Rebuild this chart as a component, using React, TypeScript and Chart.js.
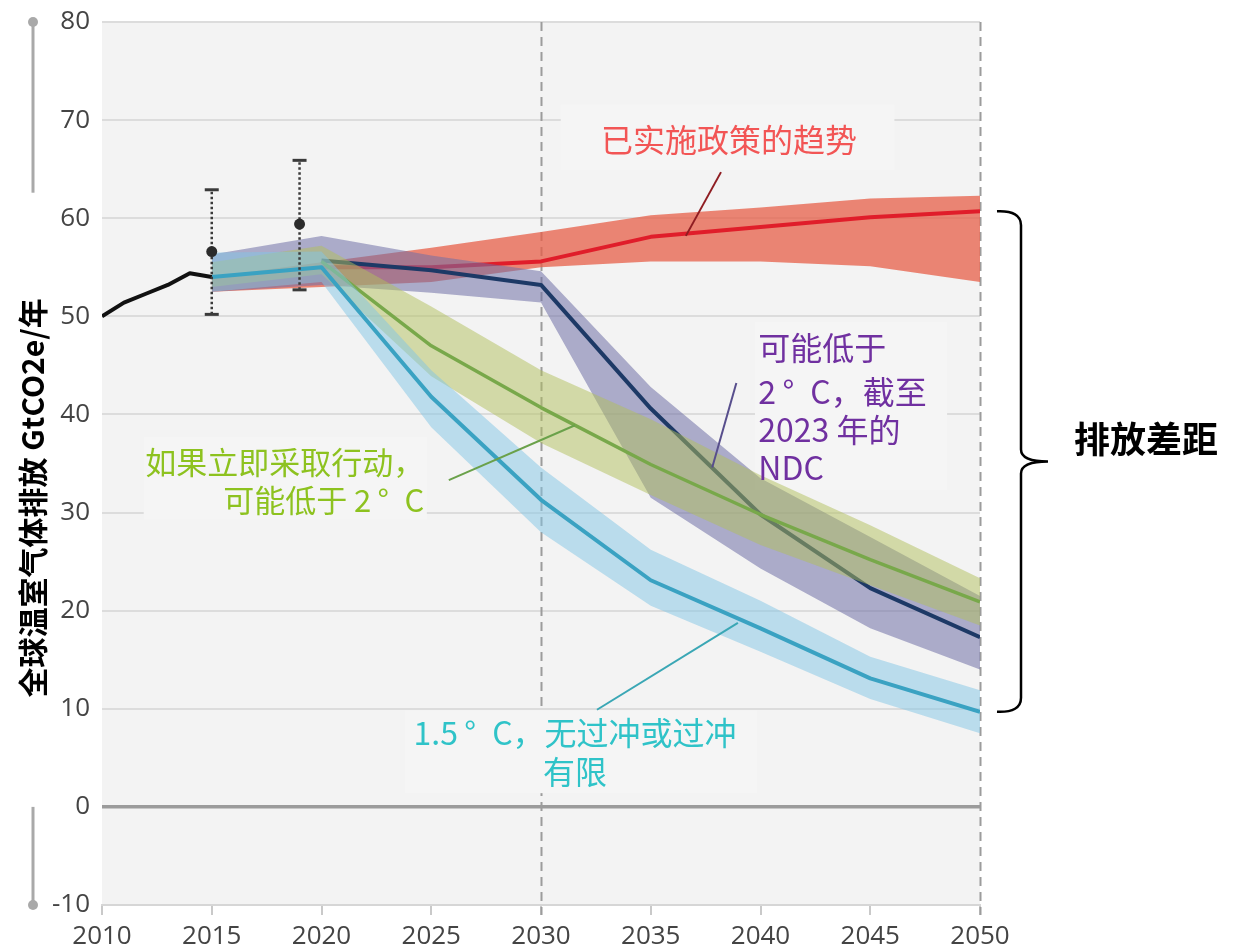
import React, { useEffect, useRef } from "react";
import { Chart, registerables } from "chart.js";

Chart.register(...registerables);

// ---------- data ----------
const years = [2015, 2020, 2025, 2030, 2035, 2040, 2045, 2050];

const histYears = [2010, 2011, 2012, 2013, 2014, 2015];
const histValues = [50.0, 51.4, 52.3, 53.2, 54.4, 54.0];

const policyHigh = [54.0, 55.5, 57.0, 58.6, 60.3, 61.1, 62.0, 62.3];
const policyLow = [52.5, 53.0, 53.5, 55.0, 55.6, 55.6, 55.1, 53.5];
const policyMid = [null, 55.0, 55.0, 55.6, 58.1, 59.1, 60.1, 60.7];

const ndcHigh = [56.3, 58.2, 56.2, 54.6, 42.8, 33.5, 27.5, 21.5];
const ndcLow = [52.5, 53.2, 52.4, 51.4, 31.5, 24.3, 18.2, 14.0];
const ndcMid = [null, 55.7, 54.7, 53.2, 40.6, 29.8, 22.3, 17.3];

const immHigh = [55.5, 57.2, 51.0, 44.5, 39.5, 33.8, 28.7, 23.3];
const immLow = [53.0, 54.3, 43.9, 37.1, 31.8, 26.7, 22.6, 18.5];
const immMid = [null, 55.6, 47.0, 40.7, 34.9, 29.8, 25.2, 20.9];

const c15High = [56.5, 56.6, 44.5, 34.6, 26.2, 21.0, 15.3, 11.9];
const c15Low = [52.5, 53.5, 38.7, 28.0, 20.5, 15.8, 11.0, 7.5];
const c15Mid = [54.0, 55.0, 41.8, 31.3, 23.1, 18.2, 13.1, 9.7];

const errYears = [2015, 2019];
const errCenter = [56.6, 59.4];
const errLow = [50.2, 52.7];
const errHigh = [62.9, 65.9];

const dashedYears = [2030, 2050];

const yAxisTitle = "全球温室气体排放 GtCO2e/年";
const gapLabel = "排放差距";

const policyText = ["已实施政策的趋势"];
const ndcText = ["可能低于", "2\u2009°\u2002C，截至", "2023 年的", "NDC"];
const immText = ["如果立即采取行动，", "可能低于 2\u2009°\u2002C"];
const c15Text = ["1.5\u2009°\u2002C，无过冲或过冲", "有限"];

// ---------- helpers ----------
type P = { x: number; y: number | null };
const pts = (xs: number[], ys: (number | null)[]): P[] =>
  xs.map((x, i) => ({ x, y: ys[i] })).filter((p) => p.y !== null);

const whiskerPts = (): P[] => {
  const out: P[] = [];
  errYears.forEach((yr, i) => {
    if (i > 0) out.push({ x: (errYears[i - 1] + yr) / 2, y: null });
    out.push({ x: yr, y: errLow[i] });
    out.push({ x: yr, y: errHigh[i] });
  });
  return out;
};

const BG = "#f3f3f3";
const BOX = "#f5f5f5";
const CJK = '"Noto Sans CJK SC", "Noto Sans", sans-serif';
const TICK_FONT = '"Open Sans", sans-serif';

// annotation layout in data units
const labelBoxes = [
  { x0: 2030.9, x1: 2046.1, y0: 71.6, y1: 64.9 },
  { x0: 2039.75, x1: 2048.5, y0: 49.4, y1: 32.3 },
  { x0: 2011.9, x1: 2024.8, y0: 37.7, y1: 29.3 },
  { x0: 2023.8, x1: 2039.85, y0: 9.8, y1: 1.4 },
];

const leaders = [
  { from: [2038.2, 64.7], to: [2036.6, 58.2], color: "#8f1d22" },
  { from: [2038.9, 43.2], to: [2037.8, 34.6], color: "#574e8c" },
  { from: [2025.8, 33.3], to: [2031.55, 38.9], color: "#6aa14a" },
  { from: [2032.55, 9.9], to: [2038.97, 18.76], color: "#3aa7b5" },
];

const textBlocks = [
  { lines: policyText, x: 2038.56, ys: [68.0], align: "center", color: "#f25555", size: 32 },
  { lines: ndcText, x: 2039.9, ys: [46.8, 42.3, 38.4, 34.6], align: "left", color: "#7030a0", size: 32 },
  { lines: immText, x: 2024.68, ys: [35.1, 31.3], align: "right", color: "#8dc21f", size: 31 },
  { lines: c15Text, x: 2031.55, ys: [7.5, 3.6], align: "center", color: "#2fc3c8", size: 32 },
];

const decorPlugin = {
  id: "decor",
  beforeDraw(chart: any) {
    const { ctx, chartArea: a } = chart;
    ctx.save();
    ctx.fillStyle = BG;
    ctx.fillRect(a.left, a.top, a.right - a.left, a.bottom - a.top);
    ctx.restore();
  },
  beforeDatasetsDraw(chart: any) {
    const { ctx, chartArea: a } = chart;
    const xs = chart.scales.x;
    const ys = chart.scales.y;
    ctx.save();
    ctx.setLineDash([9, 6]);
    ctx.strokeStyle = "#9c9c9c";
    ctx.lineWidth = 2;
    dashedYears.forEach((v) => {
      const px = Math.round(xs.getPixelForValue(v)) + 0.5;
      ctx.beginPath();
      ctx.moveTo(px, a.top);
      ctx.lineTo(px, a.bottom + 10);
      ctx.stroke();
    });
    ctx.setLineDash([]);
    ctx.fillStyle = BOX;
    labelBoxes.forEach((b) => {
      const x0 = xs.getPixelForValue(b.x0);
      const x1 = xs.getPixelForValue(b.x1);
      const y0 = ys.getPixelForValue(b.y0);
      const y1 = ys.getPixelForValue(b.y1);
      ctx.fillRect(x0, y0, x1 - x0, y1 - y0);
    });
    ctx.restore();
  },
  afterDatasetsDraw(chart: any) {
    const { ctx } = chart;
    const xs = chart.scales.x;
    const ys = chart.scales.y;
    ctx.save();
    leaders.forEach((l) => {
      ctx.strokeStyle = l.color;
      ctx.lineWidth = 2;
      ctx.beginPath();
      ctx.moveTo(xs.getPixelForValue(l.from[0]), ys.getPixelForValue(l.from[1]));
      ctx.lineTo(xs.getPixelForValue(l.to[0]), ys.getPixelForValue(l.to[1]));
      ctx.stroke();
    });
    textBlocks.forEach((t) => {
      ctx.font = `${t.size}px ${CJK}`;
      ctx.fillStyle = t.color;
      ctx.textAlign = t.align as CanvasTextAlign;
      ctx.textBaseline = "middle";
      t.lines.forEach((line, i) => {
        ctx.fillText(line, xs.getPixelForValue(t.x), ys.getPixelForValue(t.ys[i]));
      });
    });
    ctx.restore();
  },
  afterDraw(chart: any) {
    const { ctx, chartArea: a } = chart;
    const ys = chart.scales.y;
    ctx.save();
    // decorative side bars
    const bx = a.left - 69;
    ctx.strokeStyle = "#a9a9a9";
    ctx.fillStyle = "#a9a9a9";
    ctx.lineWidth = 3;
    const bars = [
      [80, 62.6, 80],
      [0, -10, -10],
    ];
    bars.forEach(([v0, v1, dot]) => {
      ctx.beginPath();
      ctx.moveTo(bx, ys.getPixelForValue(v0));
      ctx.lineTo(bx, ys.getPixelForValue(v1));
      ctx.stroke();
      ctx.beginPath();
      ctx.arc(bx, ys.getPixelForValue(dot), 5, 0, Math.PI * 2);
      ctx.fill();
    });
    // y axis title
    ctx.translate(33, ys.getPixelForValue(31.5));
    ctx.rotate(-Math.PI / 2);
    ctx.font = `bold 30px ${CJK}`;
    ctx.fillStyle = "#000";
    ctx.textAlign = "center";
    ctx.textBaseline = "middle";
    ctx.fillText(yAxisTitle, 0, 0);
    ctx.restore();

    // brace
    ctx.save();
    const yTop = ys.getPixelForValue(policyMid[policyMid.length - 1] as number);
    const yBot = ys.getPixelForValue(c15Mid[c15Mid.length - 1]);
    const yMid = (yTop + yBot) / 2;
    const x0 = a.right + 17;
    const xv = a.right + 41;
    const xt = a.right + 68;
    ctx.strokeStyle = "#000";
    ctx.lineWidth = 2.5;
    ctx.beginPath();
    ctx.moveTo(x0, yTop);
    ctx.quadraticCurveTo(xv, yTop - 1, xv, yTop + 14);
    ctx.lineTo(xv, yMid - 12);
    ctx.quadraticCurveTo(xv, yMid, xt, yMid);
    ctx.moveTo(xt, yMid);
    ctx.quadraticCurveTo(xv, yMid, xv, yMid + 12);
    ctx.lineTo(xv, yBot - 14);
    ctx.quadraticCurveTo(xv, yBot + 1, x0, yBot);
    ctx.stroke();
    ctx.font = `bold 36px ${CJK}`;
    ctx.fillStyle = "#000";
    ctx.textAlign = "left";
    ctx.textBaseline = "middle";
    ctx.fillText(gapLabel, a.right + 94, yMid - 22);
    ctx.restore();
  },
};

const band = (data: P[], color: string, fill: any, order: number) => ({
  data,
  borderWidth: 0,
  pointRadius: 0,
  backgroundColor: color,
  fill,
  tension: 0,
  order,
});

const line = (data: P[], color: string, width: number, order: number) => ({
  data,
  borderColor: color,
  borderWidth: width,
  pointRadius: 0,
  fill: false,
  tension: 0,
  borderJoinStyle: "round",
  order,
});

export default function App() {
  const ref = useRef<HTMLCanvasElement | null>(null);

  useEffect(() => {
    if (!ref.current) return;
    const datasets: any[] = [
      band(pts(years, policyHigh), "rgba(231,95,72,0.75)", "+1", 100),
      band(pts(years, policyLow), "transparent", false, 99),
      line(pts(years, policyMid), "#e01d2a", 4, 98.5),
      band(pts(years, ndcHigh), "rgba(112,112,165,0.55)", "+1", 98),
      band(pts(years, ndcLow), "transparent", false, 97),
      line(pts(years, ndcMid), "#1d3966", 4, 96),
      band(pts(years, immHigh), "rgba(178,192,92,0.5)", "+1", 95),
      band(pts(years, immLow), "transparent", false, 94),
      line(pts(years, immMid), "#78a84a", 3.5, 93),
      band(pts(years, c15High), "rgba(130,198,230,0.5)", "+1", 92),
      band(pts(years, c15Low), "transparent", false, 91),
      line(pts(years, c15Mid), "#3aa2c2", 4, 90),
      line(pts(histYears, histValues), "#111111", 4, 88),
      {
        data: whiskerPts(),
        borderColor: "#3a3a3a",
        borderWidth: 2.5,
        borderDash: [2.5, 2.5],
        pointStyle: "line",
        pointRadius: 7,
        pointBorderWidth: 3,
        pointBorderColor: "#3a3a3a",
        spanGaps: false,
        fill: false,
        order: 87,
      },
      {
        data: pts(errYears, errCenter),
        showLine: false,
        pointRadius: 5.5,
        pointBackgroundColor: "#2b2b2b",
        pointBorderColor: "#2b2b2b",
        pointBorderWidth: 0,
        fill: false,
        order: 86,
      },
    ];

    const chart = new Chart(ref.current, {
      type: "line",
      data: { datasets },
      plugins: [decorPlugin],
      options: {
        responsive: false,
        animation: false,
        events: [],
        layout: { padding: { left: 0, right: 268, top: 22, bottom: 0 } },
        plugins: { legend: { display: false }, tooltip: { enabled: false } },
        scales: {
          x: {
            type: "linear",
            min: 2010,
            max: 2050,
            afterFit: (s: any) => {
              s.height = 47;
              s.paddingLeft = 0;
              s.paddingRight = 0;
            },
            ticks: {
              stepSize: 5,
              color: "#444",
              padding: 6,
              font: { family: TICK_FONT, size: 26 },
              callback: (v: any) => String(v),
              maxRotation: 0,
            },
            grid: {
              drawOnChartArea: false,
              drawTicks: true,
              tickLength: 10,
              color: "#c9c9c9",
              lineWidth: 2,
            },
            border: { display: true, color: "#d6d6d6", width: 2 },
          },
          y: {
            min: -10,
            max: 80,
            afterFit: (s: any) => {
              s.width = 102;
              s.paddingTop = 0;
              s.paddingBottom = 0;
            },
            ticks: {
              stepSize: 10,
              color: "#444",
              padding: 12,
              font: { family: TICK_FONT, size: 26 },
            },
            grid: {
              drawTicks: false,
              color: (c: any) => (c.tick && c.tick.value === 0 ? "#9b9b9b" : "#dcdcdc"),
              lineWidth: (c: any) => (c.tick && c.tick.value === 0 ? 3.5 : 2),
            },
            border: { display: false },
          },
        },
      },
    });
    return () => chart.destroy();
  }, []);

  return (
    <div style={{ position: "absolute", left: 0, top: 0, width: 1248, height: 952, background: "#fff" }}>
      <canvas ref={ref} width={1248} height={952} style={{ display: "block" }} />
    </div>
  );
}
